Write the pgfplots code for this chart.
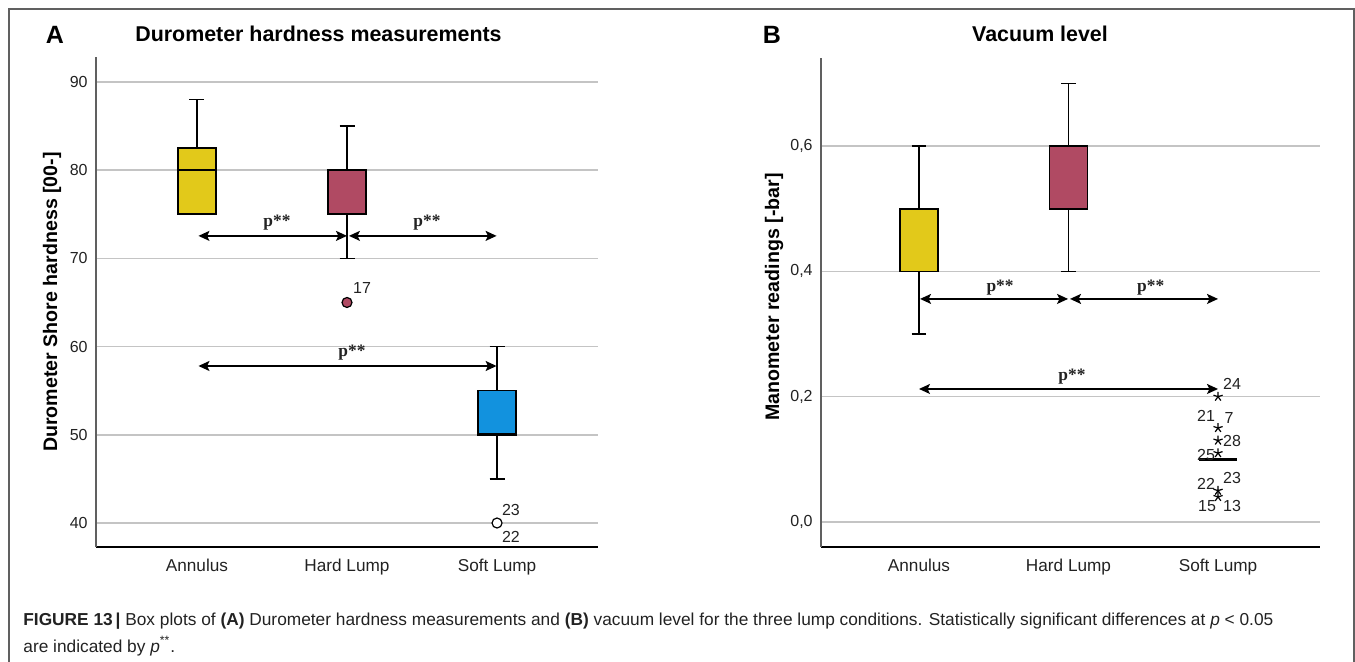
\documentclass[border=0pt]{standalone}
\usepackage{pgfplots}
\pgfplotsset{compat=1.18}
\usepgfplotslibrary{statistics}
\usetikzlibrary{arrows.meta}
\usepackage{fontspec}
\setmainfont{Liberation Sans}
\newfontfamily\serifp{Liberation Serif}

\definecolor{cA}{HTML}{E2C91A}
\definecolor{cB}{HTML}{B04A63}
\definecolor{cC}{HTML}{1292DE}
\definecolor{gridc}{HTML}{C4C4C4}
\definecolor{axc}{HTML}{606060}
\definecolor{txt}{HTML}{222222}

\pgfplotsset{
 spss/.style={
  scale only axis,
  axis x line*=bottom, axis y line*=left,
  x axis line style={black, line width=0.9pt, -},
  y axis line style={axc, line width=0.9pt, -},
  major tick length=0pt,
  ymajorgrids, grid style={gridc, line width=0.8pt},
  xtick={1,2,3}, xticklabels={Annulus,Hard Lump,Soft Lump},
  xticklabel style={font=\fontsize{8.6}{10}\selectfont, text=txt, inner sep=0pt, yshift=-6pt, anchor=north},
  yticklabel style={font=\fontsize{8}{10}\selectfont, text=txt, inner sep=0pt, xshift=-4pt, anchor=east},
  boxplot/draw direction=y,
  boxplot/box extend=0.253,
  boxplot/whisker extend=0.1,
  clip=false,
 },
 bx/.style={solid, draw=black, line width=0.8pt, mark=none, fill=#1,
  boxplot/every whisker/.style={line width=0.7pt},
  boxplot/every median/.style={line width=0.8pt}},
}
\tikzset{
 arr/.style={{Stealth[length=5.5pt,width=5pt,inset=1.2pt]}-{Stealth[length=5.5pt,width=5pt,inset=1.2pt]}, line width=0.75pt, black},
 plab/.style={font=\serifp\bfseries\fontsize{8.7}{10}\selectfont, text=txt, inner sep=0pt},
 olab/.style={font=\fontsize{8}{10}\selectfont, text=txt, inner sep=0pt},
}

\begin{document}
\begin{tikzpicture}
\useasboundingbox (0,0) rectangle (677.5pt,-331pt);
\draw[axc, line width=1pt] (4.5pt,-331pt) -- (4.5pt,-4.5pt) -- (677pt,-4.5pt) -- (677pt,-331pt);

% ---------------- Panel A ----------------
\begin{axis}[spss, at={(48pt,-273.5pt)}, anchor=south west,
  width=251pt, height=245pt,
  xmin=0.327, xmax=3.673, ymin=37.28, ymax=92.83,
  ytick={40,50,60,70,80,90}, yticklabels={40,50,60,70,80,90}]
\addplot+[boxplot prepared={draw position=1, lower whisker=75, lower quartile=75, median=80, upper quartile=82.5, upper whisker=88}, bx=cA] coordinates {};
\addplot+[boxplot prepared={draw position=2, lower whisker=70, lower quartile=75, median=80, upper quartile=80, upper whisker=85}, bx=cB] coordinates {};
\addplot+[boxplot prepared={draw position=3, lower whisker=45, lower quartile=50, median=50, upper quartile=55, upper whisker=60}, bx=cC, boxplot/every median/.style={line width=1.5pt}] coordinates {};
\addplot[only marks, mark=*, mark size=2.5pt, mark options={fill=cB, draw=black, line width=0.6pt}] coordinates {(2,65)};
\addplot[only marks, mark=*, mark size=2.5pt, mark options={fill=white, draw=black, line width=0.6pt}] coordinates {(3,40)};
\draw[arr] (axis cs:1.01,72.55) -- (axis cs:2.0,72.55);
\draw[arr] (axis cs:2.013,72.55) -- (axis cs:2.997,72.55);
\draw[arr] (axis cs:1.01,57.8) -- (axis cs:2.997,57.8);
\node[plab] at (axis cs:1.533,74.0) {p**};
\node[plab] at (axis cs:2.533,74.0) {p**};
\node[plab] at (axis cs:2.033,59.3) {p**};
\node[olab] at (axis cs:2.1,66.6) {17};
\node[olab] at (axis cs:3.093,41.5) {23};
\node[olab] at (axis cs:3.093,38.4) {22};
\end{axis}

% ---------------- Panel B ----------------
\begin{axis}[spss, at={(410.5pt,-273.5pt)}, anchor=south west,
  width=249.5pt, height=244.5pt,
  xmin=0.3445, xmax=3.682, ymin=-0.0399, ymax=0.7405,
  ytick={0,0.2,0.4,0.6}, yticklabels={{0,0},{0,2},{0,4},{0,6}}]
\addplot+[boxplot prepared={draw position=1, lower whisker=0.3, lower quartile=0.4, median=0.5, upper quartile=0.5, upper whisker=0.6}, bx=cA] coordinates {};
\addplot+[boxplot prepared={draw position=2, lower whisker=0.4, lower quartile=0.5, median=0.6, upper quartile=0.6, upper whisker=0.7}, bx=cB] coordinates {};
\addplot+[boxplot prepared={draw position=3, lower whisker=0.1, lower quartile=0.1, median=0.1, upper quartile=0.1, upper whisker=0.1}, bx=cC, boxplot/every median/.style={line width=1.6pt}] coordinates {};
\addplot[only marks, mark=star, mark size=2.4pt, mark options={black, line width=0.6pt}] coordinates {(3,0.2) (3,0.15) (3,0.13) (3,0.11) (3,0.05) (3,0.04)};
\draw[arr] (axis cs:1.007,0.356) -- (axis cs:1.997,0.356);
\draw[arr] (axis cs:2.01,0.356) -- (axis cs:3.0,0.356);
\draw[arr] (axis cs:1.0,0.2123) -- (axis cs:3.0,0.2123);
\node[plab] at (axis cs:1.542,0.3735) {p**};
\node[plab] at (axis cs:2.55,0.3735) {p**};
\node[plab] at (axis cs:2.023,0.2314) {p**};
\node[olab] at (axis cs:3.094,0.2203) {24};
\node[olab] at (axis cs:2.92,0.1692) {21};
\node[olab] at (axis cs:3.074,0.166) {7};
\node[olab] at (axis cs:3.094,0.1293) {28};
\node[olab] at (axis cs:2.92,0.107) {25};
\node[olab] at (axis cs:2.92,0.0607) {22};
\node[olab] at (axis cs:3.094,0.0702) {23};
\node[olab] at (axis cs:2.927,0.0255) {15};
\node[olab] at (axis cs:3.094,0.0255) {13};
\end{axis}

% ---------------- Texts (pixel coordinates) ----------------
\begin{scope}[x=0.5pt, y=-0.5pt]
\node[font=\bfseries\fontsize{12.5}{14}\selectfont, inner sep=0pt] at (55,35) {A};
\node[font=\bfseries\fontsize{10.7}{12}\selectfont, inner sep=0pt] at (318.5,34) {Durometer hardness measurements};
\node[font=\bfseries\fontsize{12.5}{14}\selectfont, inner sep=0pt] at (772,35) {B};
\node[font=\bfseries\fontsize{10.7}{12}\selectfont, inner sep=0pt] at (1040,34) {Vacuum level};
\node[font=\bfseries\fontsize{9.8}{11}\selectfont, inner sep=0pt, rotate=90] at (52,302) {Durometer Shore hardness [00-]};
\node[font=\bfseries\fontsize{9.8}{11}\selectfont, inner sep=0pt, rotate=90] at (774,297) {Manometer readings [-bar]};
\node[anchor=west, inner sep=0pt, text=txt, font=\fontsize{8.65}{10}\selectfont] at (23,621) {\textbf{FIGURE 13\,|} Box plots of \textbf{(A)} Durometer hardness measurements and \textbf{(B)} vacuum level for the three lump conditions. Statistically significant differences at \textit{p} < 0.05};
\node[anchor=west, inner sep=0pt, text=txt, font=\fontsize{8.65}{10}\selectfont] at (23,646) {are indicated by \textit{p}\textsuperscript{**}.};
\end{scope}
\end{tikzpicture}
\end{document}
